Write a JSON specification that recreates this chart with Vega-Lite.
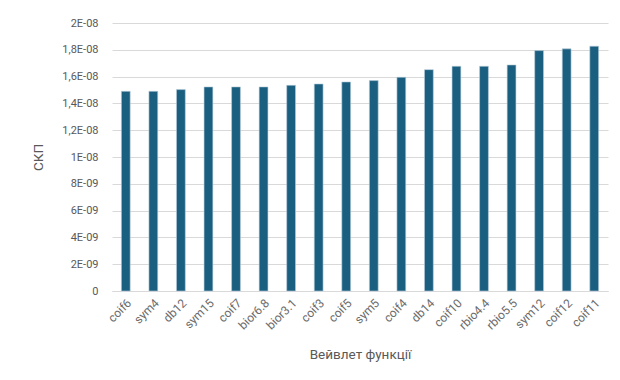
{
  "$schema": "https://vega.github.io/schema/vega-lite/v6.json",
  "autosize": {"type": "none"},
  "padding": {"left": 112, "top": 23, "right": 12, "bottom": 89},
  "width": 496,
  "height": 268,
  "background": "white",
  "data": {
    "values": [
      {"wavelet": "coif6", "mse": 1.490e-8},
      {"wavelet": "sym4", "mse": 1.490e-8},
      {"wavelet": "db12", "mse": 1.503e-8},
      {"wavelet": "sym15", "mse": 1.523e-8},
      {"wavelet": "coif7", "mse": 1.523e-8},
      {"wavelet": "bior6.8", "mse": 1.523e-8},
      {"wavelet": "bior3.1", "mse": 1.535e-8},
      {"wavelet": "coif3", "mse": 1.545e-8},
      {"wavelet": "coif5", "mse": 1.560e-8},
      {"wavelet": "sym5", "mse": 1.570e-8},
      {"wavelet": "coif4", "mse": 1.595e-8},
      {"wavelet": "db14", "mse": 1.652e-8},
      {"wavelet": "coif10", "mse": 1.677e-8},
      {"wavelet": "rbio4.4", "mse": 1.677e-8},
      {"wavelet": "rbio5.5", "mse": 1.687e-8},
      {"wavelet": "sym12", "mse": 1.794e-8},
      {"wavelet": "coif12", "mse": 1.807e-8},
      {"wavelet": "coif11", "mse": 1.827e-8}
    ]
  },
  "mark": {"type": "bar", "color": "#1a5f80", "stroke": "#b9cfdb", "strokeWidth": 0.6},
  "encoding": {
    "x": {
      "field": "wavelet",
      "type": "nominal",
      "sort": null,
      "scale": {"paddingInner": 0.68, "paddingOuter": 0.34},
      "axis": {
        "title": "Вейвлет функції",
        "titleFont": "Roboto",
        "titleFontSize": 13.5,
        "titleFontWeight": "normal",
        "titleColor": "#595959",
        "titlePadding": 16,
        "labelAngle": -45,
        "labelFont": "Roboto",
        "labelFontSize": 12,
        "labelColor": "#6b6b6b",
        "labelPadding": 6,
        "ticks": false,
        "domainColor": "#d9d9d9",
        "domainWidth": 1
      }
    },
    "y": {
      "field": "mse",
      "type": "quantitative",
      "scale": {"domain": [0, 2e-8], "nice": false},
      "axis": {
        "title": "СКП",
        "titleFont": "Roboto",
        "titleFontSize": 13.5,
        "titleFontWeight": "normal",
        "titleColor": "#595959",
        "titlePadding": 16,
        "values": [0, 2e-9, 4e-9, 6e-9, 8e-9, 1e-8, 1.2e-8, 1.4e-8, 1.6e-8, 1.8e-8, 2e-8],
        "labelExpr": "datum.value == 0 ? '0' : (datum.value >= 9.99e-9 ? replace(format(round(datum.value * 1e9) / 10, '.1~f'), '.', ',') + 'E-08' : format(round(datum.value * 1e9), 'd') + 'E-09')",
        "labelFont": "Roboto",
        "labelFontSize": 11,
        "labelColor": "#595959",
        "labelPadding": 14,
        "ticks": false,
        "domain": false,
        "gridColor": "#d9d9d9",
        "gridWidth": 1
      }
    }
  },
  "config": {"view": {"stroke": null}}
}
